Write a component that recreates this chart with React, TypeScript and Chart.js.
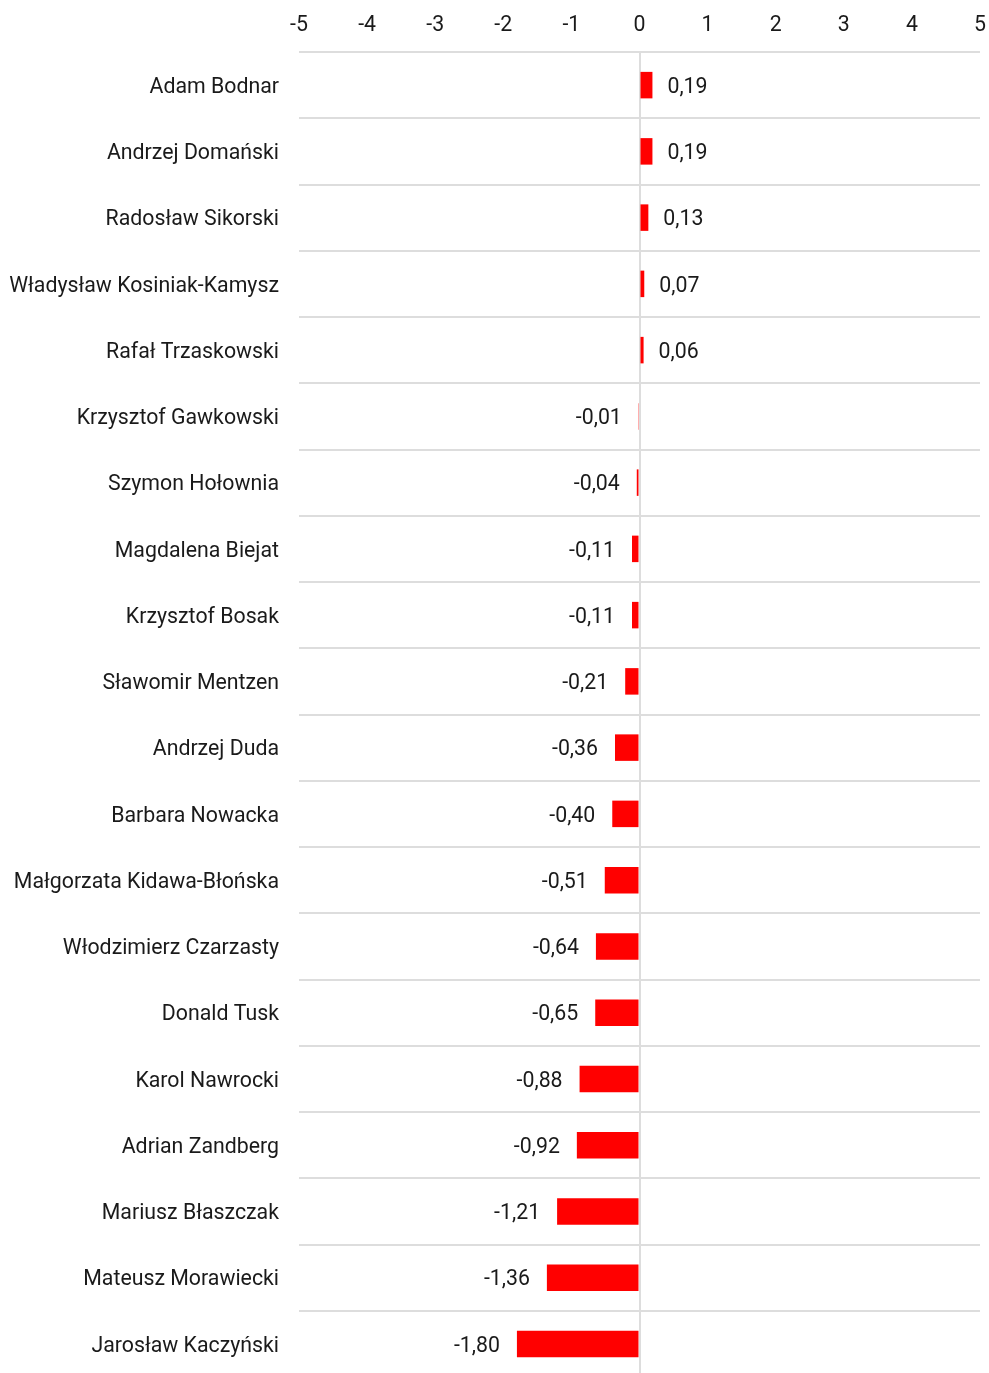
import React, { useEffect, useRef } from "react";
import { Chart, registerables } from "chart.js";

Chart.register(...registerables);

const categories = [
  "Adam Bodnar",
  "Andrzej Domański",
  "Radosław Sikorski",
  "Władysław Kosiniak-Kamysz",
  "Rafał Trzaskowski",
  "Krzysztof Gawkowski",
  "Szymon Hołownia",
  "Magdalena Biejat",
  "Krzysztof Bosak",
  "Sławomir Mentzen",
  "Andrzej Duda",
  "Barbara Nowacka",
  "Małgorzata Kidawa-Błońska",
  "Włodzimierz Czarzasty",
  "Donald Tusk",
  "Karol Nawrocki",
  "Adrian Zandberg",
  "Mariusz Błaszczak",
  "Mateusz Morawiecki",
  "Jarosław Kaczyński",
];

const values = [
  0.19, 0.19, 0.13, 0.07, 0.06, -0.01, -0.04, -0.11, -0.11, -0.21, -0.36, -0.4,
  -0.51, -0.64, -0.65, -0.88, -0.92, -1.21, -1.36, -1.8,
];

const xMin = -5;
const xMax = 5;

const FONT = "Roboto, 'Noto Sans', sans-serif";
const FS = 21.3;
const TEXT = "#1a1a1a";

const valueLabels = {
  id: "valueLabels",
  afterDatasetsDraw(chart: any) {
    const ctx = chart.ctx;
    const meta = chart.getDatasetMeta(0);
    const base = chart.scales.x.getPixelForValue(0);
    ctx.save();
    ctx.font = `${FS}px ${FONT}`;
    ctx.fillStyle = TEXT;
    ctx.textBaseline = "middle";
    meta.data.forEach((bar: any, i: number) => {
      const v = values[i];
      const txt = v.toFixed(2).replace(".", ",");
      const y = bar.y + 2.5;
      if (v >= 0) {
        ctx.textAlign = "left";
        ctx.fillText(txt, Math.max(bar.x, base) + 15, y);
      } else {
        ctx.textAlign = "right";
        ctx.fillText(txt, Math.min(bar.x, base) - 17, y);
      }
    });
    ctx.restore();
  },
};

export default function App() {
  const ref = useRef<HTMLCanvasElement>(null);
  useEffect(() => {
    if (!ref.current) return;
    const chart = new Chart(ref.current, {
      type: "bar",
      data: {
        labels: categories,
        datasets: [
          {
            data: values,
            backgroundColor: "#ff0000",
            borderWidth: 0,
            categoryPercentage: 1,
            barPercentage: 0.4,
          },
        ],
      },
      options: {
        indexAxis: "y",
        animation: false,
        responsive: false,
        maintainAspectRatio: false,
        layout: { padding: { left: 0, right: 9, top: 0, bottom: 3 } },
        plugins: {
          legend: { display: false },
          tooltip: { enabled: false },
        },
        scales: {
          x: {
            position: "top",
            min: xMin,
            max: xMax,
            ticks: {
              stepSize: 1,
              color: TEXT,
              font: { family: FONT, size: FS },
              padding: 14,
              maxRotation: 0,
            },
            grid: {
              drawTicks: false,
              lineWidth: 2,
              color: (c: any) => (c.tick && c.tick.value === 0 ? "#dddddd" : "rgba(0,0,0,0)"),
            },
            border: { display: false },
            afterFit: (s: any) => {
              s.height = 52;
              s.paddingLeft = 0;
              s.paddingRight = 0;
            },
          },
          y: {
            ticks: {
              color: TEXT,
              font: { family: FONT, size: FS },
              padding: 20,
              labelOffset: 2.5,
              autoSkip: false,
            },
            grid: {
              offset: true,
              drawTicks: false,
              lineWidth: 2,
              color: "#dddddd",
            },
            border: { display: false },
            afterFit: (s: any) => {
              s.width = 299;
              s.paddingTop = 0;
              s.paddingBottom = 0;
            },
          },
        },
      },
      plugins: [valueLabels],
    });
    return () => chart.destroy();
  }, []);
  return (
    <div
      style={{
        position: "fixed",
        left: 0,
        top: 0,
        width: 989,
        height: 1373,
        overflow: "hidden",
        background: "#fff",
      }}
    >
      <canvas ref={ref} width={989} height={1380} style={{ width: 989, height: 1380, display: "block" }} />
    </div>
  );
}
